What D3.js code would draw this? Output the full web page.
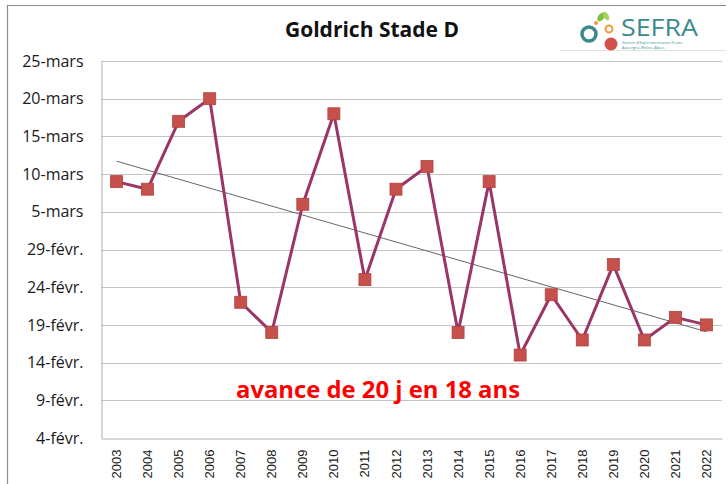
<!DOCTYPE html>
<html>
<head>
<meta charset="utf-8">
<script src="https://cdn.jsdelivr.net/npm/d3@7"></script>
<style>
  html, body { margin: 0; padding: 0; background: #fff; }
  svg { display: block; }
</style>
</head>
<body>
<div id="chart"></div>
<script>
// Goldrich - date of stage D, 2003-2022
const years = ['2003', '2004', '2005', '2006', '2007', '2008', '2009', '2010', '2011', '2012',
  '2013', '2014', '2015', '2016', '2017', '2018', '2019', '2020', '2021', '2022'];

// days after 4 February (leap-year calendar: 25 = 29-févr., 30 = 5-mars)
const stadeD = [34, 33, 42, 45, 18, 14, 31, 43, 21, 33,
  36, 14, 34, 11, 19, 13, 23, 13, 16, 15];

const yTicks = [0, 5, 10, 15, 20, 25, 30, 35, 40, 45, 50];
const yTickLabels = ['4-févr.', '9-févr.', '14-févr.', '19-févr.', '24-févr.', '29-févr.',
  '5-mars', '10-mars', '15-mars', '20-mars', '25-mars'];

const title = 'Goldrich Stade D';
const note = 'avance de 20 j en 18 ans';
const logoLines = ['Station d\'Expérimentation Fruits', 'Auvergne-Rhône-Alpes'];

const width = 728;
const height = 484;
const margin = { top: 61, right: 6, bottom: 46, left: 101 };

const svg = d3.select('#chart').append('svg')
  .attr('width', width)
  .attr('height', height);

// outer frame (top + left visible)
svg.append('path')
  .attr('d', 'M7.5,484V5.5H726')
  .attr('fill', 'none')
  .attr('stroke', '#8c8c8c')
  .attr('stroke-width', 1.2);

const x = d3.scaleBand()
  .domain(years)
  .range([margin.left, width - margin.right]);

const y = d3.scaleLinear()
  .domain([0, 50])
  .range([height - margin.bottom, margin.top]);

// gridlines
svg.append('g')
  .selectAll('line')
  .data(yTicks.slice(1))
  .join('line')
  .attr('x1', margin.left)
  .attr('x2', width - margin.right)
  .attr('y1', d => Math.round(y(d)) + 0.5)
  .attr('y2', d => Math.round(y(d)) + 0.5)
  .attr('stroke', '#c4c4c4')
  .attr('stroke-width', 1);

// y axis
const yAxis = d3.axisLeft(y)
  .tickValues(yTicks)
  .tickFormat((d, i) => yTickLabels[i])
  .tickSize(0)
  .tickPadding(18);

const gy = svg.append('g')
  .attr('transform', `translate(${margin.left + 0.5},0)`)
  .call(yAxis);
gy.select('.domain').attr('stroke', '#b0b0b0');
gy.selectAll('text')
  .attr('font-family', '"Open Sans", sans-serif')
  .attr('font-size', 16)
  .attr('fill', '#1a1a1a');

// x axis
const xAxis = d3.axisBottom(x).tickSize(0).tickPadding(0);
const gx = svg.append('g')
  .attr('transform', `translate(0,${Math.round(y(0)) + 0.5})`)
  .call(xAxis);
gx.select('.domain').attr('stroke', '#b0b0b0');
gx.selectAll('text')
  .attr('font-family', '"Liberation Sans", Arial, sans-serif')
  .attr('font-size', 13)
  .attr('fill', '#1a1a1a')
  .attr('text-anchor', 'end')
  .attr('dy', '0.35em')
  .attr('transform', 'translate(0,11) rotate(-90)');

// trend line (least squares)
const n = stadeD.length;
const mx = d3.mean(d3.range(n));
const my = d3.mean(stadeD);
const sxy = d3.sum(stadeD, (v, i) => (i - mx) * (v - my));
const sxx = d3.sum(d3.range(n), i => (i - mx) * (i - mx));
const slope = sxy / sxx;
const icpt = my - slope * mx;

const cx = d => x(d) + x.bandwidth() / 2;

svg.append('line')
  .attr('x1', cx(years[0]))
  .attr('y1', y(icpt))
  .attr('x2', cx(years[n - 1]))
  .attr('y2', y(icpt + slope * (n - 1)))
  .attr('stroke', '#666')
  .attr('stroke-width', 1);

// series line
const line = d3.line()
  .x((d, i) => cx(years[i]))
  .y(d => y(d));

svg.append('path')
  .datum(stadeD)
  .attr('d', line)
  .attr('fill', 'none')
  .attr('stroke', '#9a3567')
  .attr('stroke-width', 3)
  .attr('stroke-linejoin', 'round');

// markers
const ms = 12;
svg.append('g')
  .selectAll('rect')
  .data(stadeD)
  .join('rect')
  .attr('x', (d, i) => cx(years[i]) - ms / 2)
  .attr('y', d => y(d) - ms / 2)
  .attr('width', ms)
  .attr('height', ms)
  .attr('fill', '#c6504c')
  .attr('stroke', '#b0443f')
  .attr('stroke-width', 0.8);

// title
svg.append('text')
  .attr('x', 285)
  .attr('y', 37)
  .attr('font-family', '"Open Sans", sans-serif')
  .attr('font-weight', 700)
  .attr('font-size', 20.5)
  .attr('fill', '#111')
  .attr('textLength', 174)
  .attr('lengthAdjust', 'spacingAndGlyphs')
  .text(title);

// annotation
svg.append('text')
  .attr('x', 236)
  .attr('y', 398)
  .attr('font-family', '"Open Sans", sans-serif')
  .attr('font-weight', 700)
  .attr('font-size', 23.5)
  .attr('fill', '#ff0000')
  .attr('textLength', 284)
  .attr('lengthAdjust', 'spacingAndGlyphs')
  .text(note);

// SEFRA logo
const logo = svg.append('g');
logo.append('line')
  .attr('x1', 560).attr('x2', 726)
  .attr('y1', 50.5).attr('y2', 50.5)
  .attr('stroke', '#e2e2e2');
logo.append('ellipse')
  .attr('cx', 601).attr('cy', 17).attr('rx', 3).attr('ry', 5)
  .attr('transform', 'rotate(35 601 17)')
  .attr('fill', '#7fbf3f');
logo.append('ellipse')
  .attr('cx', 606).attr('cy', 16).attr('rx', 2.5).attr('ry', 4.5)
  .attr('transform', 'rotate(-30 606 16)')
  .attr('fill', '#a6d15a');
logo.append('circle')
  .attr('cx', 596).attr('cy', 23).attr('r', 2)
  .attr('fill', '#f39a3c');
logo.append('circle')
  .attr('cx', 589).attr('cy', 34).attr('r', 7)
  .attr('fill', 'none')
  .attr('stroke', '#3b8a8c')
  .attr('stroke-width', 3.5);
logo.append('circle')
  .attr('cx', 609).attr('cy', 29).attr('r', 3.5)
  .attr('fill', 'none')
  .attr('stroke', '#f39a3c')
  .attr('stroke-width', 2);
logo.append('circle')
  .attr('cx', 611).attr('cy', 44).attr('r', 6.5)
  .attr('fill', '#d2504a');
logo.append('text')
  .attr('x', 621).attr('y', 36)
  .attr('font-family', '"Open Sans", sans-serif')
  .attr('font-size', 24)
  .attr('fill', '#3b8a8c')
  .attr('textLength', 77)
  .attr('lengthAdjust', 'spacingAndGlyphs')
  .text('SEFRA');
logo.append('text')
  .attr('font-family', '"Open Sans", sans-serif')
  .attr('font-size', 4)
  .attr('fill', '#3b8a8c')
  .selectAll('tspan')
  .data(logoLines)
  .join('tspan')
  .attr('x', 622)
  .attr('y', (d, i) => 44 + i * 4.8)
  .text(d => d);
</script>
</body>
</html>
